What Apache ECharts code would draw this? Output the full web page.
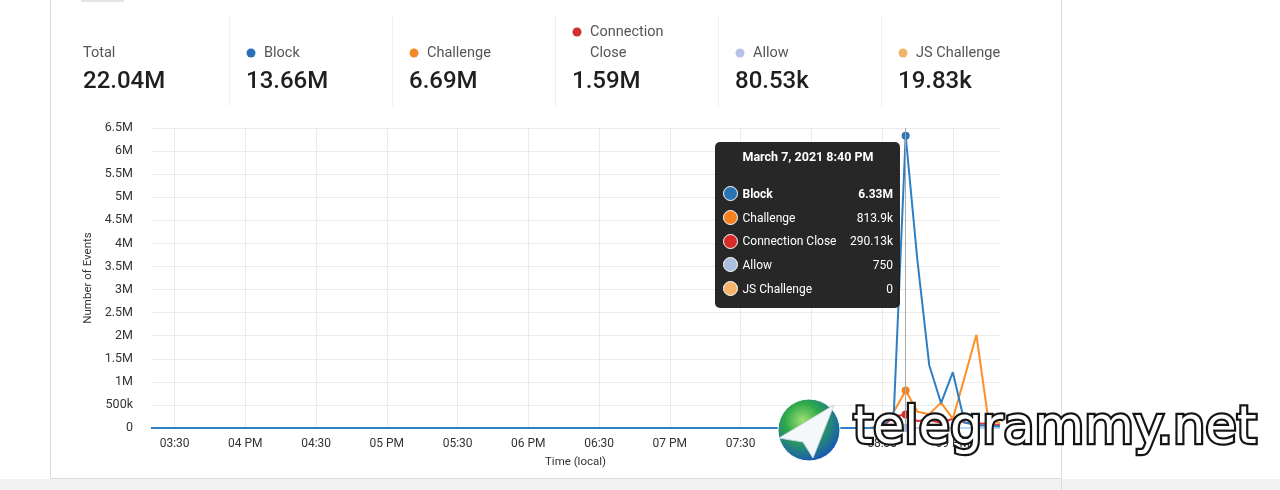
<!DOCTYPE html>
<html><head><meta charset="utf-8">
<script src="https://cdn.jsdelivr.net/npm/echarts@6/dist/echarts.min.js"></script>
<style>html,body{margin:0;padding:0;background:#fff;}#c{width:1280px;height:490px;}</style>
</head><body><div id="c"></div>
<script>
// ---- data ----
const categories = [
'15:20','15:25','15:30','15:35','15:40','15:45','15:50','15:55',
'16:00','16:05','16:10','16:15','16:20','16:25','16:30','16:35','16:40','16:45','16:50','16:55',
'17:00','17:05','17:10','17:15','17:20','17:25','17:30','17:35','17:40','17:45','17:50','17:55',
'18:00','18:05','18:10','18:15','18:20','18:25','18:30','18:35','18:40','18:45','18:50','18:55',
'19:00','19:05','19:10','19:15','19:20','19:25','19:30','19:35','19:40','19:45','19:50','19:55',
'20:00','20:05','20:10','20:15','20:20','20:25','20:30','20:35','20:40','20:45','20:50','20:55',
'21:00','21:05','21:10','21:15','21:20'];
const dateLabel = 'March 7, 2021';
const seriesNames = ['Block','Challenge','Connection Close','Allow','JS Challenge'];
const seriesColors = ['#2b74b3','#f5821f','#d62c2c','#aabfe0','#f6b36b'];
const block = [
0,0,0,0,0,0,0,0,0,0, 0,0,0,0,0,0,0,0,0,0, 0,0,0,0,0,0,0,0,0,0,
0,0,0,0,0,0,0,0,0,0, 0,0,0,0,0,0,0,0,0,0, 0,0,0,0,0,0,0,0,0,0,
0,0,8000,350000,6330000,3620000,1360000,540000,1210000,120000,
60000,50000,40000];
const challenge = [
0,0,0,0,0,0,0,0,0,0, 0,0,0,0,0,0,0,0,0,0, 0,0,0,0,0,0,0,0,0,0,
0,0,0,0,0,0,0,0,0,0, 0,0,0,0,0,0,0,0,0,0, 0,0,0,0,0,0,0,0,0,0,
0,0,50000,350000,813900,350000,300000,550000,200000,1100000,
2020000,200000,100000];
const connectionClose = [
0,0,0,0,0,0,0,0,0,0, 0,0,0,0,0,0,0,0,0,0, 0,0,0,0,0,0,0,0,0,0,
0,0,0,0,0,0,0,0,0,0, 0,0,0,0,0,0,0,0,0,0, 0,0,0,0,0,0,0,0,0,0,
0,0,20000,250000,290130,150000,180000,110000,200000,120000,
90000,100000,60000];
const allow = [
1050,980,1120,1010,940,1080,1150,1030,990,1070,
1110,1020,960,1040,1090,1130,1000,970,1060,1120,
1080,1010,950,1030,1100,1140,1060,990,1020,1070,
1150,1090,1000,960,1040,1110,1080,1030,1170,1120,
1060,1010,1090,1140,1200,1130,1080,1050,1160,1210,
1120,1090,1170,1230,1180,1140,1260,1200,1150,1240,
1190,1220,1280,1100,750,980,1320,1410,1250,1190,
1300,1240,1180];
const jsChallenge = [
310,280,0,350,290,0,320,300,270,0,
340,310,290,0,300,330,280,0,310,290,
0,320,300,280,0,350,310,290,0,330,
300,280,0,310,340,290,0,300,320,280,
0,310,290,330,0,300,280,310,0,340,
290,300,0,320,310,280,0,300,330,290,
0,310,280,0,0,0,350,410,390,0,
420,380,0];
const seriesData = [block, challenge, connectionClose, allow, jsChallenge];
const yTicksMax = 6500000, yTickStep = 500000;
const statLabels = ['Total','Block','Challenge','Connection\nClose','Allow','JS Challenge'];
const statValues = ['22.04M','13.66M','6.69M','1.59M','80.53k','19.83k'];
const statColors = [null,'#2a72b5','#f28a26','#d32f2f','#b4c3e3','#f2b46a'];
const hoverIndex = 64;

// ---- helpers ----
const FONT = 'Roboto, "Noto Sans", "Liberation Sans", sans-serif';
function fmt(v){
  if (v >= 1e6) return +(v/1e6).toFixed(2) + 'M';
  if (v >= 1e3) return +(v/1e3).toFixed(2) + 'k';
  return String(v);
}
function axisFmt(v){
  if (v === 0) return '0';
  if (v >= 1e6) return (v/1e6) + 'M';
  return (v/1e3) + 'k';
}
function timeLabel(c){
  const [h, m] = c.split(':').map(Number);
  const h12 = h % 12 === 0 ? 12 : h % 12;
  const hh = String(h12).padStart(2,'0');
  return m === 0 ? hh + ' PM' : hh + ':' + String(m).padStart(2,'0');
}
function isHalfHour(idx){ const c = categories[idx]; return c.endsWith(':00') || c.endsWith(':30'); }

// ---- graphics: page frame + stats header + watermark ----
const g = [];
g.push({type:'rect', silent:true, shape:{x:0,y:479,width:1280,height:11}, style:{fill:'#f2f2f2'}, z:-10});
g.push({type:'line', silent:true, shape:{x1:50.5,y1:0,x2:50.5,y2:479}, style:{stroke:'#dcdcdc',lineWidth:1}});
g.push({type:'line', silent:true, shape:{x1:1061.5,y1:0,x2:1061.5,y2:490}, style:{stroke:'#dcdcdc',lineWidth:1}});
g.push({type:'line', silent:true, shape:{x1:50,y1:478.5,x2:1062,y2:478.5}, style:{stroke:'#dcdcdc',lineWidth:1}});
g.push({type:'line', silent:true, shape:{x1:81,y1:1,x2:124,y2:1}, style:{stroke:'#dddddd',lineWidth:1.5}});
statLabels.forEach((lab, i) => {
  const x = 83 + i * 163;
  const lines = lab.split('\n').length;
  if (i > 0) {
    g.push({type:'line', silent:true, shape:{x1:x-16.5,y1:15,x2:x-16.5,y2:106}, style:{stroke:'#efefef',lineWidth:1}});
  }
  let lx = x;
  if (statColors[i]) {
    g.push({type:'circle', silent:true, shape:{cx:x+5, cy:53 - 21*(lines-1), r:4.5}, style:{fill:statColors[i]}});
    lx = x + 18;
  }
  g.push({type:'text', silent:true, x:lx, y:64, style:{text:lab, fill:'#555', font:'14.5px '+FONT, fontSize:14.5, fontFamily:FONT, lineHeight:21,
    align:'left', verticalAlign:'bottom', textAlign:'left', textVerticalAlign:'bottom'}});
  g.push({type:'text', silent:true, x:x, y:82, style:{text:statValues[i], fill:'#1f1f1f', font:'500 24px '+FONT, fontSize:24, fontWeight:500, fontFamily:FONT,
    align:'left', verticalAlign:'middle', textAlign:'left', textVerticalAlign:'middle'}});
});
// watermark
g.push({type:'circle', silent:true, z:100, shape:{cx:809,cy:430,r:31}, style:{
  fill:{type:'radial', x:0.4, y:0.35, r:0.7, colorStops:[{offset:0,color:'#9fe070'},{offset:0.4,color:'#2fa94a'},{offset:1,color:'#1450c0'}]},
  stroke:'#ffffff', lineWidth:1}});
g.push({type:'polygon', silent:true, z:101, shape:{points:[[779,438],[834,405],[813,458],[803,442]]}, style:{fill:'#f4f8fb', stroke:'#c9d6e2', lineWidth:1}});
g.push({type:'text', silent:true, z:101, x:853, y:430, style:{text:'telegrammy.net', fill:'#ffffff', stroke:'#151515', lineWidth:4.5,
  font:'51px "DejaVu Sans", sans-serif', fontSize:51, fontFamily:'"DejaVu Sans", sans-serif',
  align:'left', verticalAlign:'middle', textAlign:'left', textVerticalAlign:'middle'}});

// ---- series ----
const series = seriesNames.map((name, i) => ({
  name, type:'line', data: seriesData[i],
  showSymbol:false, symbol:'circle', symbolSize:8,
  z: 10 - i,
  lineStyle:{width:2, color:seriesColors[i]},
  itemStyle:{color:seriesColors[i]},
  emphasis:{scale:false, lineStyle:{width:2}},
  animation:false
}));

const chart = echarts.init(document.getElementById('c'), null, {renderer:'canvas'});
chart.setOption({
  animation:false,
  backgroundColor:'#ffffff',
  textStyle:{fontFamily:FONT},
  grid:{left:151, right:280, top:128, bottom:62, containLabel:false},
  xAxis:{
    type:'category', data:categories, boundaryGap:false,
    name:'Time (local)', nameLocation:'middle', nameGap:28,
    nameTextStyle:{color:'#333', fontSize:11.5, fontFamily:FONT},
    axisLine:{show:false}, axisTick:{show:false},
    axisLabel:{interval:(idx)=>isHalfHour(idx), formatter:(v)=>timeLabel(v), color:'#333', fontSize:12, margin:10, fontFamily:FONT},
    splitLine:{show:true, interval:(idx)=>isHalfHour(idx), lineStyle:{color:'#ebebeb', width:1}}
  },
  yAxis:{
    type:'value', min:0, max:yTicksMax, interval:yTickStep,
    name:'Number of Events', nameLocation:'middle', nameRotate:90, nameGap:49,
    nameTextStyle:{color:'#333', fontSize:11.5, fontFamily:FONT},
    axisLine:{show:false}, axisTick:{show:false},
    axisLabel:{formatter:axisFmt, color:'#333', fontSize:12.5, margin:18, fontFamily:FONT, lineHeight:17, verticalAlign:'middle'},
    splitLine:{lineStyle:{color:'#ebebeb', width:1}}
  },
  tooltip:{
    trigger:'axis', triggerOn:'none', alwaysShowContent:true,
    position:[715,142],
    backgroundColor:'rgba(30,30,30,0.96)', borderWidth:0, padding:[8,7,8,8],
    textStyle:{color:'#fff', fontSize:12, fontFamily:FONT},
    extraCssText:'width:185px;height:166px;box-sizing:border-box;border-radius:5px;box-shadow:none;',
    transitionDuration:0,
    axisPointer:{type:'line', lineStyle:{color:'#a9a9a9', width:1, type:'solid'}},
    formatter:(params)=>{
      const cat = params[0].name;
      const [h, m] = cat.split(':').map(Number);
      const t = (h % 12 || 12) + ':' + String(m).padStart(2,'0') + (h >= 12 ? ' PM' : ' AM');
      let html = '<div style="text-align:center;font-weight:bold;font-size:12.5px;line-height:14px;">' + dateLabel + ' ' + t + '</div>';
      html += '<div style="height:18px"></div>';
      params.forEach((p, k) => {
        const bold = k === 0 ? 'font-weight:bold;' : '';
        html += '<div style="display:flex;align-items:center;height:23.7px;">' +
          '<span style="display:inline-block;width:15px;height:15px;border-radius:50%;background:' + p.color + ';border:1.5px solid #fff;box-sizing:border-box;margin-right:5px;margin-left:-0.5px"></span>' +
          '<span style="flex:1;' + bold + '">' + p.seriesName + '</span>' +
          '<span style="' + bold + '">' + fmt(p.value) + '</span></div>';
      });
      return html;
    }
  },
  graphic:{elements:g},
  series
});
chart.dispatchAction({type:'showTip', seriesIndex:0, dataIndex:hoverIndex});
</script>
</body></html>
